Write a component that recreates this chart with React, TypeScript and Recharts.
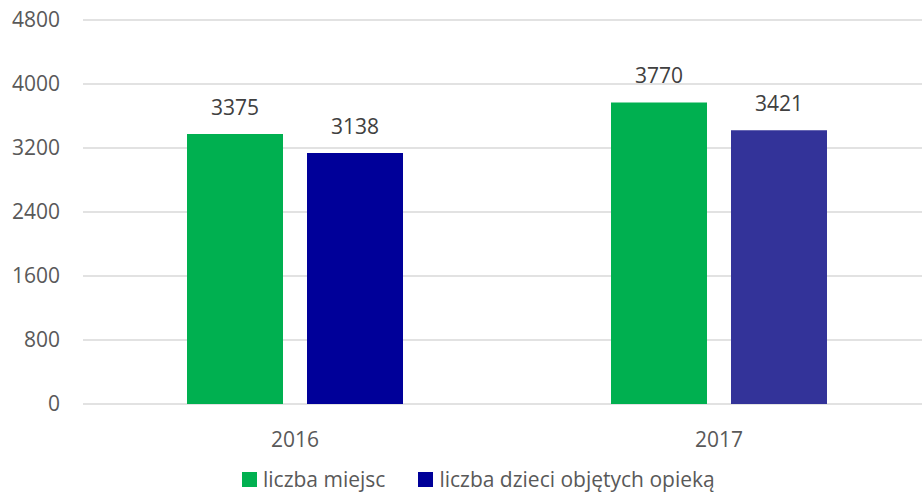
import React from 'react';
import { BarChart, Bar, XAxis, YAxis, CartesianGrid, LabelList, Cell } from 'recharts';

const years = ['2016', '2017'];
const miejsca = [3375, 3770];
const dzieci = [3138, 3421];
const yTicks = [0, 800, 1600, 2400, 3200, 4000, 4800];
const seriesNames = ['liczba miejsc', 'liczba dzieci objętych opieką'];
const dzieciColors = ['#000099', '#333399'];

const data = years.map((y, i) => ({ year: y, miejsca: miejsca[i], dzieci: dzieci[i] }));

const FONT = '"Open Sans", sans-serif';

export default function App() {
  return (
    <div style={{ position: 'absolute', left: 0, top: 0, width: 922, height: 494, overflow: 'hidden', background: '#fff', fontFamily: FONT }}>
      <BarChart
        width={940}
        height={494}
        data={data}
        margin={{ top: 20, right: 9, bottom: 0, left: 0 }}
        barCategoryGap={104}
        barGap={24}
      >
        <CartesianGrid horizontal vertical={false} stroke="#d9d9d9" strokeWidth={1.5} />
        <XAxis
          dataKey="year"
          axisLine={false}
          tickLine={false}
          tickSize={0}
          tickMargin={28}
          height={90}
          tick={{ fill: '#595959', fontSize: 21, fontFamily: FONT }}
        />
        <YAxis
          domain={[0, 4800]}
          ticks={yTicks}
          axisLine={false}
          tickLine={false}
          tickSize={0}
          tickMargin={23}
          width={83}
          tick={{ fill: '#595959', fontSize: 21, fontFamily: FONT }}
        />
        <Bar dataKey="miejsca" name={seriesNames[0]} fill="#00b050" barSize={96} isAnimationActive={false}>
          <LabelList dataKey="miejsca" position="top" offset={19} fill="#404040" fontSize={21} fontFamily={FONT} />
        </Bar>
        <Bar dataKey="dzieci" name={seriesNames[1]} fill="#000099" barSize={96} isAnimationActive={false}>
          {data.map((d, i) => (
            <Cell key={d.year} fill={dzieciColors[i]} />
          ))}
          <LabelList dataKey="dzieci" position="top" offset={19} fill="#404040" fontSize={21} fontFamily={FONT} />
        </Bar>
      </BarChart>
      <div style={{ position: 'absolute', left: 242, top: 466, display: 'flex', alignItems: 'center', fontSize: 21, lineHeight: '26px', color: '#595959', whiteSpace: 'nowrap' }}>
        <span style={{ display: 'inline-block', width: 15, height: 15, background: '#00b050', marginRight: 6 }} />
        <span style={{ marginRight: 33 }}>{seriesNames[0]}</span>
        <span style={{ display: 'inline-block', width: 15, height: 15, background: '#000099', marginRight: 6 }} />
        <span>{seriesNames[1]}</span>
      </div>
    </div>
  );
}
